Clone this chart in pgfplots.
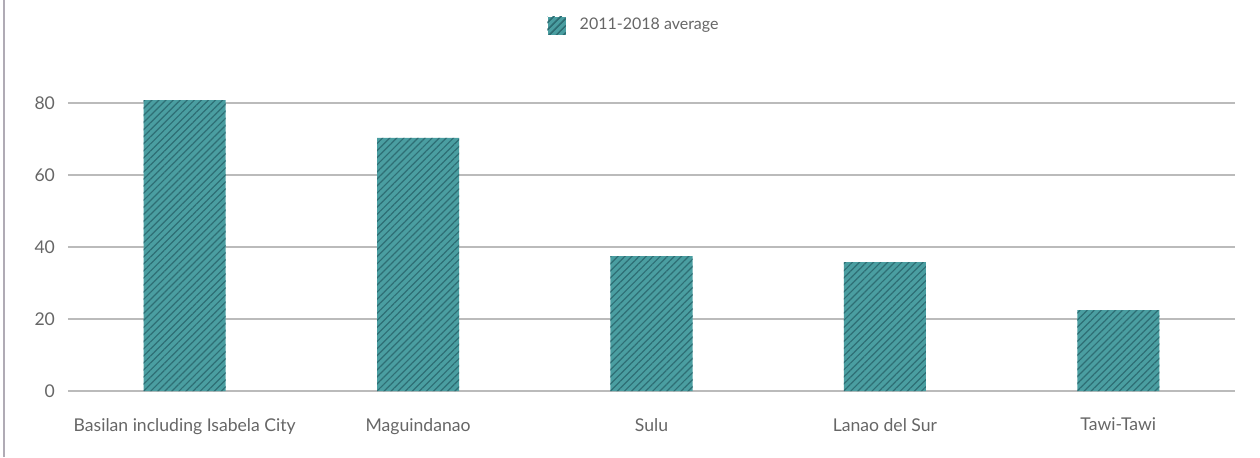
\documentclass[border=0pt]{standalone}
\usepackage{pgfplots}
\pgfplotsset{compat=1.18}
\usepackage{fontspec}
\setmainfont{Lato}
\usetikzlibrary{patterns.meta}
\definecolor{barfill}{HTML}{4A9EA1}
\definecolor{stripe}{HTML}{2E6E74}
\definecolor{txt}{HTML}{666666}
\definecolor{gridc}{HTML}{BBBBBB}
\definecolor{framec}{HTML}{B0ABB5}
\begin{document}
\begin{tikzpicture}
\useasboundingbox (0,0) rectangle (630pt,228.5pt);
\draw[framec, line width=1pt] (1.75pt,0) -- (1.75pt,228.5pt);
\begin{axis}[
  at={(34pt,33pt)}, anchor=south west,
  scale only axis, width=583.5pt, height=162pt,
  xmin=-0.5, xmax=4.5, ymin=0, ymax=90,
  axis line style={draw=none},
  tick style={draw=none},
  ytick={0,20,40,60,80},
  ymajorgrids=true, xmajorgrids=false,
  major grid style={draw=gridc, line width=0.9pt},
  xtick={0,1,2,3,4},
  xticklabels={Basilan including Isabela City, Maguindanao, Sulu, Lanao del Sur, Tawi-Tawi},
  ticklabel style={font=\fontsize{8.8}{10}\selectfont, text=txt},
  /pgf/number format/assume math mode=true,
  xticklabel style={yshift=-10pt},
  yticklabel style={xshift=-3pt},
  legend style={at={(0.486,1.128)}, anchor=center, draw=none, fill=none,
    font=\fontsize{8}{10}\selectfont, text=txt, legend columns=1,
    legend cell align=left},
  legend image code/.code={
    \fill[barfill] (0pt,-4.5pt) rectangle (9pt,4.5pt);
    \fill[pattern={Lines[angle=45,distance=2.5pt,line width=0.6pt]}, pattern color=stripe] (0pt,-4.5pt) rectangle (9pt,4.5pt);
    \path (14pt,0pt);
  },
]
\addplot[ybar, bar width=41pt, draw=none, fill=barfill,
  postaction={pattern={Lines[angle=45,distance=2.5pt,line width=0.6pt]}, pattern color=stripe}]
  coordinates {(0,80.8) (1,70.3) (2,37.5) (3,35.8) (4,22.5)};
\addlegendentry{2011-2018 average}
\end{axis}
\end{tikzpicture}
\end{document}
